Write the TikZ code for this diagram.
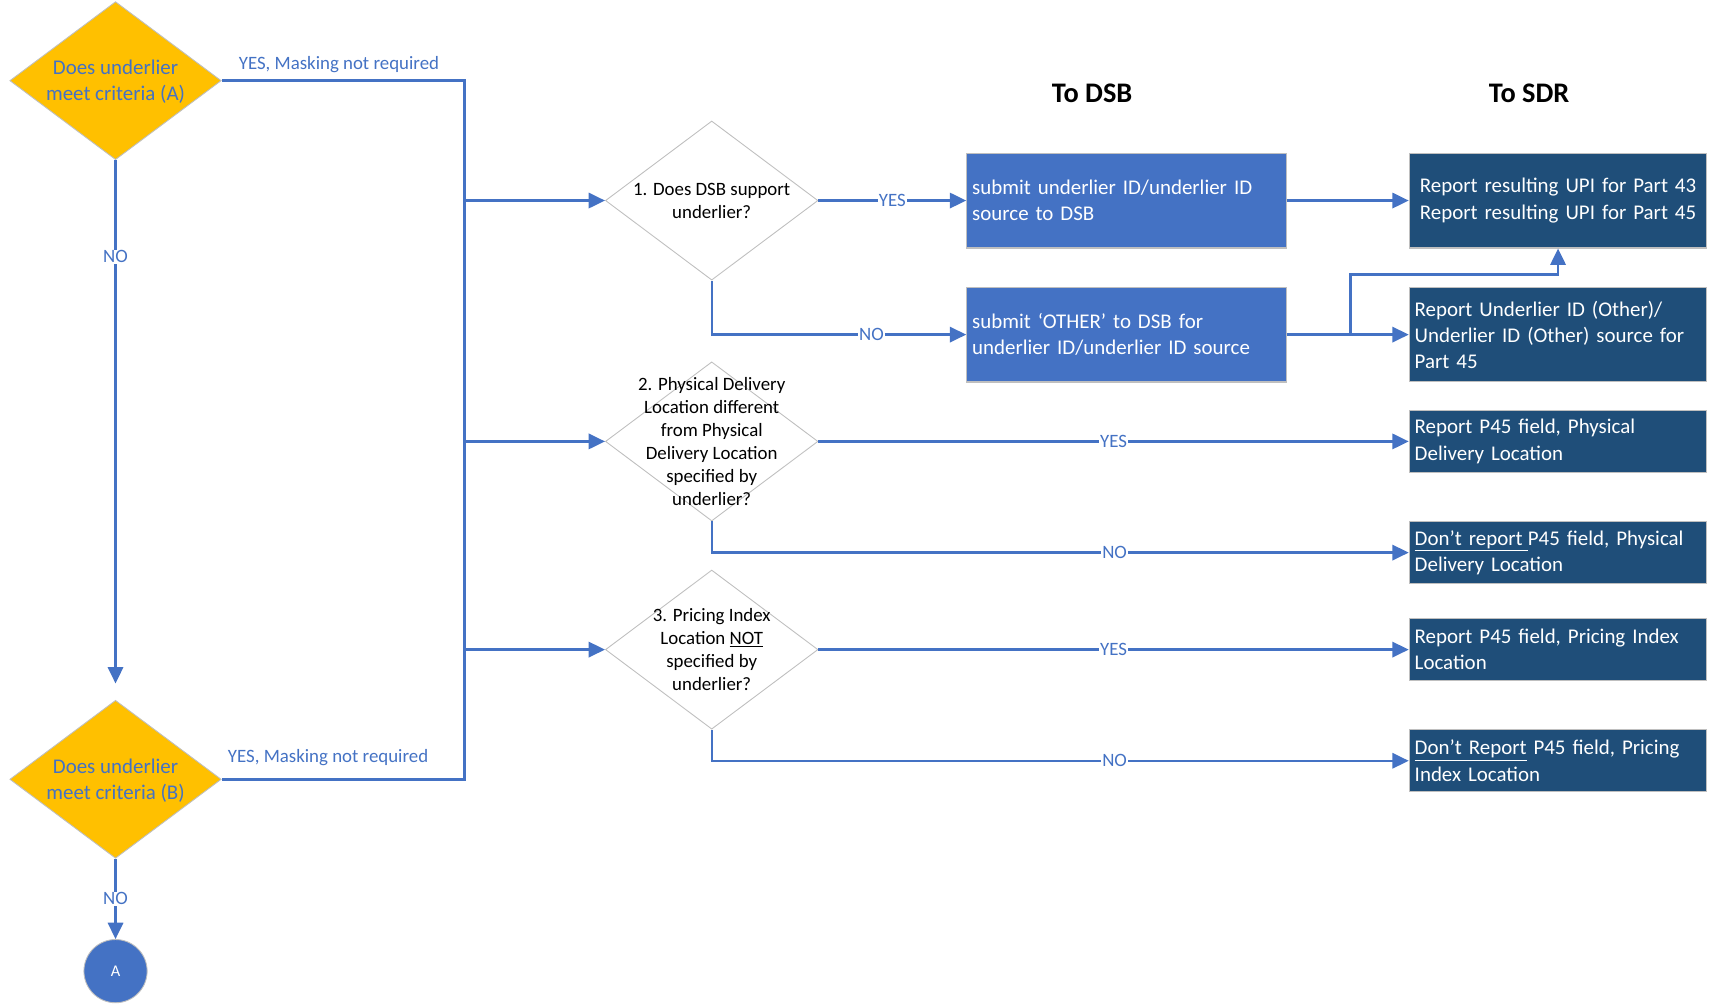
\documentclass[tikz,border=0pt]{standalone}
\usepackage{fontspec}
\setmainfont{Carlito}
\usetikzlibrary{arrows.meta,shapes.geometric}
\definecolor{mblue}{HTML}{4472C4}
\definecolor{dblue}{HTML}{1F4E79}
\definecolor{gold}{HTML}{FFC000}
\definecolor{lgrey}{HTML}{BFBFBF}
\newcommand\fontBox{\fontsize{19.2}{24}\selectfont}
\newcommand\fontDia{\fontsize{17.3}{21}\selectfont}
\newcommand\fontLab{\fontsize{17.3}{21}\selectfont}
\newcommand\fontTitle{\fontsize{26}{31}\selectfont\bfseries}
\begin{document}
\begin{tikzpicture}[x=1pt,y=-1pt,
  conn/.style={draw=mblue, line width=2.2pt},
  arr/.style={conn, -{Triangle[length=15pt,width=14pt]}},
  golddia/.style={diamond, fill=gold, draw=lgrey, line width=0.8pt, minimum width=194pt, minimum height=145pt, inner sep=0pt},
  whitedia/.style={diamond, fill=white, draw=lgrey, line width=0.8pt, minimum width=195pt, minimum height=146pt, inner sep=0pt},
  goldtext/.style={text=mblue, font=\fontBox, align=center, inner sep=0pt},
  diatext/.style={text=black, font=\fontDia, align=center, inner sep=0pt},
  dsbbox/.style={fill=mblue, draw=lgrey, line width=1pt, text=white, font=\fontBox, minimum width=293pt, minimum height=87pt, text width=283pt, inner xsep=5pt, align=left},
  sdrbox/.style={fill=dblue, draw=lgrey, line width=1pt, text=white, font=\fontBox, minimum width=273pt, text width=263pt, inner xsep=5pt, align=left},
  lab/.style={fill=white, text=mblue, font=\fontLab, inner sep=1pt},
  toplab/.style={text=mblue, font=\fontLab, inner sep=0pt},
  title/.style={text=black, font=\fontTitle, inner sep=0pt}
]
\useasboundingbox (0,0) rectangle (1568,921);

% left decision diamonds
\node[golddia] (dA) at (106,74) {};
\node[goldtext] (tA) at (106,75) {Does underlier\\meet criteria (A)};
\node[golddia] (dB) at (106,715) {};
\node[goldtext] (tB) at (106,716) {Does underlier\\meet criteria (B)};
\node[circle, fill=mblue, draw=lgrey, line width=0.8pt, minimum size=58pt, inner sep=0pt, text=white, font=\fontsize{15}{18}\selectfont] (cA) at (106,891) {A};

\node[toplab] (yA) at (311,59) {YES, Masking not required};
\node[toplab] (yB) at (301,695) {YES, Masking not required};

% titles
\node[title] (tDSB) at (1002,86) {To DSB};
\node[title] (tSDR) at (1403,86) {To SDR};

% question diamonds
\node[whitedia] (d1) at (653,184) {};
\node[diatext] (q1) at (d1) {1. Does DSB support\\underlier?};
\node[whitedia] (d2) at (653,405) {};
\node[diatext] (q2) at (d2) {2. Physical Delivery\\Location different\\from Physical\\Delivery Location\\specified by\\underlier?};
\node[whitedia] (d3) at (653,596) {};
\node[diatext] (q3) at (d3) {3. Pricing Index\\Location \underline{NOT}\\specified by\\underlier?};

% DSB boxes
\node[dsbbox] (b1) at (1033.5,184) {submit underlier ID/underlier ID\\source to DSB};
\node[dsbbox] (b2) at (1033.5,307) {submit ‘OTHER’ to DSB for\\underlier ID/underlier ID source};

% SDR boxes
\node[sdrbox, minimum height=87pt, align=center] (s1) at (1429.5,184) {Report resulting UPI for Part 43\\Report resulting UPI for Part 45};
\node[sdrbox, minimum height=86pt] (s2) at (1429.5,307) {Report Underlier ID (Other)/\\Underlier ID (Other) source for\\Part 45};
\node[sdrbox, minimum height=57pt] (s3) at (1429.5,405) {Report P45 field, Physical\\Delivery Location};
\node[sdrbox, minimum height=57pt] (s4) at (1429.5,507) {\underline{Don’t report\kern0.25em}P45 field, Physical\\Delivery Location};
\node[sdrbox, minimum height=57pt] (s5) at (1429.5,596) {Report P45 field, Pricing Index\\Location};
\node[sdrbox, minimum height=57pt] (s6) at (1429.5,698) {\underline{Don’t Report} P45 field, Pricing\\Index Location};

% bus
\coordinate (busT) at (426,74);
\coordinate (busB) at (426,715);
\draw[conn] (dA.east) -- (busT) -- (busB) -- (dB.east);
\draw[arr] (busT |- d1.west) -- (d1.west);
\draw[arr] (busT |- d2.west) -- (d2.west);
\draw[arr] (busT |- d3.west) -- (d3.west);

% left NO flows
\draw[arr] (dA.south) -- node[lab, pos=0.185] {NO} ([yshift=15pt]dB.north);
\draw[arr] (dB.south) -- node[lab, pos=0.5] {NO} (cA.north);

% question 1
\draw[arr] (d1.east) -- node[lab] {YES} (b1.west);
\draw[arr] (d1.south) |- node[lab, pos=0.814] {NO} (b2.west);
\draw[arr] (b1.east) -- (s1.west);
\draw[arr] (b2.east) -- (s2.west);
\coordinate (j1) at (1239,307);
\coordinate (j2) at (1239,252);
\draw[arr] (j1) -- (j2) -| (s1.south);

% question 2
\draw[arr] (d2.east) -- node[lab] {YES} (s3.west);
\draw[arr] (d2.south) |- node[lab, pos=0.789] {NO} (s4.west);

% question 3
\draw[arr] (d3.east) -- node[lab] {YES} (s5.west);
\draw[arr] (d3.south) |- node[lab, pos=0.789] {NO} (s6.west);
\end{tikzpicture}
\end{document}
